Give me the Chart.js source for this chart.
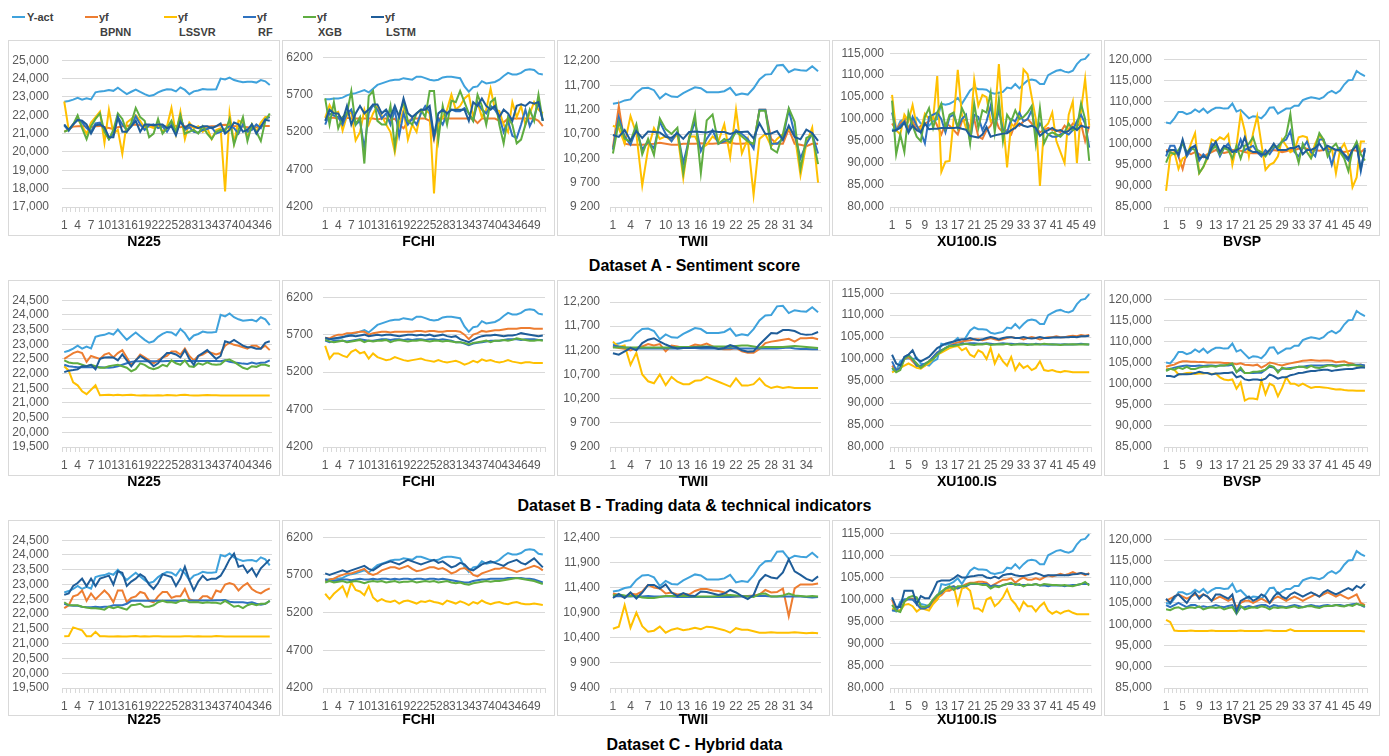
<!DOCTYPE html>
<html>
<head>
<meta charset="utf-8">
<title>Forecast comparison by dataset</title>
<script src="https://cdn.jsdelivr.net/npm/chart.js@4.4.1/dist/chart.umd.min.js"></script>
<style>
  html, body { margin: 0; padding: 0; background: #ffffff; }
  #page { position: relative; width: 1389px; height: 756px; overflow: hidden; font-family: "Liberation Sans", Arial, sans-serif; }
  .box { position: absolute; box-sizing: border-box; border: 1px solid #d9d9d9; }
  .box canvas { position: absolute; left: -1px; top: -1px; }
  .ptitle { position: absolute; font-weight: bold; font-size: 14px; line-height: 16px; color: #000; text-align: center; }
  .rtitle { position: absolute; left: 0; width: 1389px; font-weight: bold; font-size: 16px; line-height: 18px; color: #000; text-align: center; }
  .lg-line { position: absolute; height: 2px; width: 13px; }
  .lg-text { position: absolute; font-weight: bold; font-size: 11px; color: #404040; line-height: 12px; }
</style>
</head>
<body>
<div id="page"></div>
<script>
// ---------- x categories ----------
const N225_X  = Array.from({length: 47}, (_, i) => String(i + 1));
const FCHI_X  = Array.from({length: 51}, (_, i) => String(i + 1));
const TWII_X  = Array.from({length: 36}, (_, i) => String(i + 1));
const XU100_X = Array.from({length: 49}, (_, i) => String(i + 1));
const BVSP_X  = Array.from({length: 49}, (_, i) => String(i + 1));

// ---------- actual index values ----------
const N225_ACT = [22730,22780,22850,22950,22850,22920,22860,23250,23300,23320,
  23380,23330,23500,23320,23150,23280,23400,23270,23150,23050,
  23100,23250,23350,23420,23400,23300,23520,23380,23150,23300,
  23350,23430,23400,23400,23420,24000,23950,24050,23920,23850,
  23800,23820,23830,23780,23920,23850,23650];
const FCHI_ACT = [5640,5640,5650,5650,5660,5690,5710,5720,5740,5760,
  5730,5780,5830,5850,5870,5890,5900,5900,5920,5910,
  5900,5940,5940,5920,5900,5890,5900,5930,5940,5940,
  5930,5920,5810,5740,5800,5810,5880,5850,5860,5870,
  5900,5950,5990,5970,5970,5990,6030,6040,6030,5980,5970];
const TWII_ACT = [11320,11340,11390,11410,11550,11640,11650,11600,11430,11530,
  11470,11460,11540,11600,11660,11640,11560,11560,11560,11580,
  11650,11500,11530,11510,11640,11820,11920,11930,12110,12120,
  11970,12030,12010,12000,12090,11990];
const XU100_ACT = [97700,97300,99500,100000,100200,100000,100300,99000,98800,98500,
  99500,100000,103500,103300,103500,104000,104800,103500,105000,106500,
  107200,106800,106800,106700,106000,105800,106000,106200,107200,107000,
  108000,107000,108000,108800,109000,108800,108000,108000,110000,110500,
  111000,111200,110800,110600,111000,112500,113500,113700,114800];
const BVSP_ACT = [105000,104800,106000,107500,107500,107000,107300,108100,107500,108300,
  107300,108000,108500,108500,108300,108400,109500,107600,108000,107000,
  106000,106500,106400,106000,107000,108500,108600,107100,107700,108300,
  108300,109000,109000,110300,110700,111000,110800,110600,111000,112000,
  112500,111900,112600,114000,115000,115100,117200,116500,116000];

// ---------- Dataset A: sentiment score ----------
const N225_A_BPNN = [21100,21250,21380,21400,21420,21380,21350,21400,21420,21350,
  21300,21250,21350,21400,21420,21450,21500,21450,21400,21420,
  21380,21400,21420,21380,21400,21420,21350,21400,21380,21350,
  21300,21350,21380,21400,21420,21450,21480,21450,21420,21400,
  21380,21350,21300,21350,21400,21420,21420];
const N225_A_LSSVR = [22750,21200,21500,21800,21400,21000,21600,21900,22200,20500,
  22300,21000,21200,19900,21600,21800,22000,21700,21300,21400,
  21300,21500,21100,21400,22400,21000,22200,20700,21600,21300,
  21400,21100,21300,20700,21200,21300,17850,22100,20500,21700,
  21600,20800,21500,21100,21600,21900,21900];
const N225_A_RF = [21450,21150,21500,21750,21600,21300,21100,21550,21600,21200,
  20700,21000,21900,21500,21200,21400,21950,21500,21200,21450,
  21500,21300,21400,21100,21500,21000,21900,21200,21350,21100,
  21050,21200,21250,21350,21000,21100,21250,21400,21300,21000,
  21500,21100,21200,21500,21300,21800,21900];
const N225_A_XGB = [21100,21200,21500,22000,21300,20700,21400,21800,22100,21100,
  20700,21200,22100,21800,21100,21600,22400,21900,21700,20800,
  21000,21800,21000,21300,21700,21100,22000,21000,21100,21200,
  21000,21400,21000,20700,21100,21200,21100,21800,20400,21200,
  21900,20600,21500,21100,20600,21700,22100];
const N225_A_LSTM = [21500,21200,21500,21750,21700,21500,21000,21450,21500,21350,
  20800,20800,21900,21100,21100,21400,21700,21100,21500,21500,
  21450,21500,21500,21300,21400,20900,21650,21300,21500,21400,
  21300,21400,21400,21300,21400,21550,21000,21200,21600,21500,
  21100,21200,21500,21000,21400,21750,21700];

const FCHI_A_BPNN = [5400,5390,5390,5380,5380,5390,5380,5380,5380,5380,
  5380,5380,5370,5380,5380,5360,5380,5300,5250,5340,
  5380,5380,5380,5380,5350,5100,5380,5380,5380,5380,
  5380,5380,5380,5380,5380,5320,5380,5380,5380,5380,
  5350,5330,5380,5380,5380,5380,5380,5380,5380,5350,5280];
const FCHI_A_LSSVR = [5390,5560,5450,5470,5220,5420,5470,5090,5200,5500,
  5300,5450,5550,5420,5300,5200,4930,5300,5500,5100,
  5300,5200,5480,5500,5450,4380,5300,5400,5500,5700,
  5500,5550,5650,5700,5400,5600,5400,5500,5780,5500,
  5480,5300,5200,5600,5400,5550,5300,5450,5600,5500,5450];
const FCHI_A_RF = [5300,5450,5420,5400,5300,5450,5500,5300,5350,4980,
  5450,5560,5500,5380,5450,5300,5500,5150,5450,5300,
  5380,5300,5450,5550,5480,5130,5380,5300,5450,5500,
  5480,5480,5520,5450,5350,5600,5500,5450,5550,5500,
  5400,5200,5350,5150,5120,5300,5500,5280,5400,5600,5350];
const FCHI_A_XGB = [5650,5300,5600,5250,5400,5450,5750,5300,5400,4780,
  5680,5750,5350,5300,5300,5550,5000,5450,5600,5350,
  5300,5450,5500,5400,5750,5750,5100,5550,5300,5620,
  5600,5750,5600,5450,5350,5700,5550,5300,5600,5650,
  5300,5050,5400,5300,5050,5100,5300,5500,5350,5700,5350];
const FCHI_A_LSTM = [5350,5500,5450,5450,5350,5550,5300,5450,5550,5450,
  5500,5570,5570,5450,5500,5400,5550,5400,5650,5450,
  5400,5450,5500,5500,5550,5150,5450,5500,5450,5500,
  5500,5500,5500,5350,5600,5550,5650,5550,5500,5550,
  5400,5500,5450,5350,5550,5570,5550,5600,5580,5600,5350];

const TWII_A_BPNN = [10420,11270,10500,10480,10480,10480,10490,10500,10520,10500,
  10480,10480,10500,10500,10500,10510,10500,10500,10510,10520,
  10520,10500,10500,10510,10480,11200,11200,10600,10500,10500,
  10800,10500,10480,10450,10500,10500];
const TWII_A_LSSVR = [10870,10820,10500,11070,10700,9640,10400,10820,10600,10650,
  10560,10700,9800,10650,10650,10400,10480,10650,10550,10900,
  10230,11200,10300,10600,9450,10600,10700,10450,10600,10700,
  10800,10700,9850,10500,10830,9700];
const TWII_A_RF = [10380,11050,10650,10480,10800,10380,10550,10400,10950,10700,
  10550,10750,10100,10600,10950,10350,10600,10780,10500,10550,
  10600,10780,10700,10600,10400,11200,11200,10500,10500,10600,
  11200,10700,10200,10500,10700,10300];
const TWII_A_XGB = [10300,10950,10600,10550,10900,10280,10600,10270,11020,10800,
  10700,10830,9900,10600,11100,9900,10980,11100,10500,10600,
  10530,10750,10650,10550,10500,11180,11180,10400,10320,10700,
  11230,10950,9980,10620,10680,10080];
const TWII_A_LSTM = [10680,10640,10780,10560,10760,10620,10750,10740,10730,10640,
  10620,10720,10600,10740,10750,10740,10730,10760,10740,10740,
  10700,10740,10740,10750,10610,10920,10700,10710,10760,10580,
  10870,10640,10590,10790,10720,10560];

const XU100_A_BPNN = [99000,97500,99000,100000,98000,99500,97500,98500,99000,99500,
  100500,98500,96500,99000,98500,97500,96500,99500,100000,98000,
  100000,96000,95500,97500,98500,100500,98000,97000,97500,96500,
  99000,98500,99500,100000,99000,98000,97000,97500,98000,97500,
  97500,97000,98500,97500,99000,98500,99000,95000,98500];
const XU100_A_LSSVR = [105500,97500,96500,101000,99500,103200,98500,97500,101200,100000,
  100000,109800,88000,90300,90500,100000,111200,101000,98000,97000,
  109000,103000,105500,105000,99500,100500,112500,100000,89000,99000,
  98000,100500,111300,110200,105000,100000,84800,98000,99000,101500,
  95000,92500,90000,101000,104000,90000,102000,109200,98500];
const XU100_A_RF = [101500,97500,98500,99500,97000,100500,98500,97000,94500,100500,
  101000,101500,100000,97000,100500,101000,98000,100000,101000,95000,
  101000,100500,97500,99500,103000,98000,102000,97500,97000,100000,
  99500,101500,99500,100000,102000,96500,99000,97500,96500,96000,
  96000,96500,97000,96500,97500,99500,101000,99000,93500];
const XU100_A_XGB = [104200,92000,96500,92500,101500,98500,96000,95000,100500,102500,
  98000,101500,103500,98000,101000,101500,98000,102500,100500,94500,
  103500,98000,102000,101500,106000,97000,104500,95000,101000,99500,
  102000,100000,100500,101500,103000,94500,102500,94500,96500,97000,
  96500,96000,97000,99000,97500,98000,103500,100000,90500];
const XU100_A_LSTM = [97300,97500,98000,99200,97000,98500,97500,97000,99000,97700,
  97800,97800,98000,98000,98000,98000,98100,97800,97600,96200,
  96000,95800,96500,98200,96000,96300,96500,96700,96800,97500,
  98000,99000,98500,98200,98500,98000,96200,97000,97500,98000,
  97300,97500,97000,97300,98200,97500,98500,98200,98000];

const BVSP_A_BPNN = [98500,98300,98500,97000,94000,98000,97500,98000,97500,96800,
  97500,98000,98500,98000,97800,98000,98500,98500,98300,98000,
  97800,97700,97700,97600,98000,98200,98500,98300,98000,98200,
  98500,98500,98800,99000,98800,98500,98500,98300,98500,98800,
  98700,98500,98200,98000,98200,98500,98300,98000,98800];
const BVSP_A_LSSVR = [88800,97000,98000,94000,96500,97000,100000,102500,93000,94500,
  96500,101000,100500,101500,101000,102200,95000,99500,107000,103000,
  97000,102500,106500,100000,93800,95000,95500,97000,101000,99500,
  98000,98500,101500,101800,101500,97000,100000,102000,100500,99000,
  99000,93000,98500,100000,97500,89700,92000,100500,100500];
const BVSP_A_RF = [97000,99500,99500,97000,100500,97000,98500,99500,96000,97500,
  96500,100000,99500,97000,99000,100000,98000,98000,101000,98500,
  99000,99500,98000,97000,98500,97500,99000,99500,100500,101000,
  103000,98000,97000,99000,100500,98000,97000,101000,101000,98500,
  95000,98500,99000,97000,96000,98500,100000,93500,99000];
const BVSP_A_XGB = [95500,98000,97500,98500,100000,98000,99000,98500,93000,94500,
  97000,98500,99500,97500,99000,98500,96500,99500,96500,99500,
  100000,101500,98500,98000,97000,98500,99500,99000,100500,102000,
  107000,99000,95500,100000,98000,96500,99000,102500,101000,97000,
  99000,100000,98000,96500,93500,98500,100500,97500,96000];
const BVSP_A_LSTM = [98000,98500,98500,97500,101000,97500,99000,99500,96500,97000,
  96500,99000,100500,98000,99500,99000,98000,98500,99000,101500,
  98500,98000,98000,97500,97500,98500,100000,98500,98500,98500,
  99000,99000,99500,97500,98500,98500,99000,100000,98500,99500,
  99000,98500,98500,97500,96500,98500,99500,94000,98500];

// ---------- Dataset B: trading data & technical indicators ----------
const N225_B_BPNN = [22500,22600,22700,22750,22700,22400,22600,22550,22500,22650,
  22700,22550,22700,22800,22550,22300,22450,22650,22550,22450,
  22350,22450,22550,22600,22750,22750,22650,22850,22600,22450,
  22600,22650,22750,22700,22650,22700,22950,23050,22980,22950,
  22900,22850,22950,22950,22850,22950,22800];
const N225_B_LSSVR = [22250,22100,21700,21600,21400,21300,21450,21600,21260,21270,
  21280,21260,21280,21260,21270,21280,21260,21250,21260,21250,
  21250,21260,21250,21270,21260,21250,21270,21280,21260,21250,
  21250,21260,21270,21260,21260,21250,21250,21250,21250,21250,
  21250,21250,21250,21250,21250,21250,21250];
const N225_B_RF = [22300,22250,22230,22220,22220,22220,22220,22220,22220,22210,
  22200,22220,22250,22300,22350,22400,22420,22420,22420,22420,
  22420,22420,22420,22430,22430,22430,22430,22430,22430,22430,
  22430,22430,22430,22430,22430,22420,22450,22400,22380,22360,
  22340,22330,22380,22340,22370,22380,22450];
const N225_B_XGB = [22450,22380,22350,22350,22300,22250,22300,22250,22200,22200,
  22250,22280,22300,22250,22200,22080,22150,22350,22300,22200,
  22150,22200,22300,22250,22450,22350,22300,22450,22250,22230,
  22350,22300,22380,22320,22300,22320,22450,22480,22400,22300,
  22200,22150,22250,22230,22300,22300,22250];
const N225_B_LSTM = [22050,22100,22120,22150,22250,22250,22300,22150,22500,22550,
  22560,22550,22450,22650,22450,22250,22450,22600,22500,22400,
  22250,22350,22550,22700,22700,22650,22550,22800,22500,22300,
  22600,22700,22800,22650,22500,22600,23100,23050,23150,23050,
  22950,22900,22900,22850,22850,23050,23100];

const FCHI_B_BPNN = [5660,5650,5680,5700,5700,5720,5720,5730,5740,5740,
  5700,5720,5730,5740,5740,5730,5740,5740,5740,5740,
  5740,5750,5750,5740,5750,5750,5740,5740,5750,5750,
  5750,5740,5700,5640,5700,5720,5750,5740,5750,5760,
  5760,5770,5780,5780,5780,5790,5790,5790,5780,5780,5780];
const FCHI_B_LSSVR = [5550,5380,5450,5450,5420,5400,5470,5500,5450,5470,
  5380,5450,5400,5380,5360,5370,5400,5380,5360,5350,
  5360,5370,5380,5360,5350,5340,5360,5340,5330,5340,
  5350,5330,5300,5320,5350,5330,5370,5350,5360,5340,
  5330,5340,5360,5340,5330,5320,5330,5330,5320,5320,5320];
const FCHI_B_RF = [5620,5600,5620,5620,5620,5610,5620,5630,5640,5630,
  5620,5620,5630,5640,5640,5630,5640,5640,5630,5640,
  5630,5640,5640,5630,5640,5640,5630,5640,5630,5620,
  5600,5600,5580,5560,5580,5590,5600,5610,5620,5620,
  5620,5630,5640,5640,5640,5630,5640,5640,5640,5630,5630];
const FCHI_B_XGB = [5630,5610,5600,5610,5620,5600,5610,5620,5630,5600,
  5620,5610,5620,5620,5630,5600,5620,5630,5620,5610,
  5620,5620,5630,5620,5610,5620,5620,5610,5620,5610,
  5600,5600,5590,5570,5590,5600,5610,5620,5600,5620,
  5620,5630,5620,5630,5650,5640,5630,5620,5620,5630,5620];
const FCHI_B_LSTM = [5660,5640,5650,5660,5670,5680,5690,5680,5690,5700,
  5680,5690,5700,5690,5700,5700,5690,5680,5690,5700,
  5700,5690,5700,5690,5700,5680,5690,5700,5680,5670,
  5680,5640,5620,5600,5630,5660,5680,5690,5690,5700,
  5690,5680,5690,5690,5700,5720,5710,5700,5690,5680,5690];

const TWII_B_BPNN = [11280,11250,11230,11200,11250,11280,11330,11300,11330,11180,
  11300,11280,11250,11270,11320,11300,11340,11280,11230,11220,
  11220,11250,11180,11150,11150,11230,11350,11380,11400,11420,
  11440,11380,11450,11450,11460,11430];
const TWII_B_LSSVR = [11380,11270,11300,10900,11150,10700,10560,10520,10700,10480,
  10650,10550,10500,10500,10570,10580,10650,10600,10550,10500,
  10450,10620,10470,10470,10500,10620,10480,10420,10450,10420,
  10440,10420,10420,10420,10420,10420];
const TWII_B_RF = [11300,11280,11260,11250,11240,11240,11240,11240,11240,11240,
  11240,11240,11250,11250,11250,11240,11240,11240,11240,11240,
  11250,11240,11240,11240,11240,11240,11240,11240,11240,11250,
  11260,11240,11230,11230,11220,11220];
const TWII_B_XGB = [11260,11260,11260,11260,11260,11260,11260,11260,11260,11260,
  11260,11270,11270,11270,11270,11280,11280,11280,11280,11280,
  11280,11290,11300,11300,11280,11260,11270,11270,11270,11270,
  11280,11290,11280,11270,11260,11250];
const TWII_B_LSTM = [11140,11110,11180,11250,11200,11350,11420,11450,11380,11320,
  11270,11240,11250,11250,11260,11260,11270,11260,11230,11250,
  11310,11270,11200,11170,11180,11320,11440,11560,11550,11620,
  11620,11600,11540,11520,11530,11580];

const XU100_B_BPNN = [98500,97500,98000,100000,100500,99500,98500,98000,98500,99500,
  100500,101500,102000,102500,103000,103500,103800,104000,104200,104300,
  104500,104500,104300,104500,104800,104500,104300,104500,104800,105000,
  104800,104800,104500,104800,105000,104800,104500,104800,105000,105000,
  105200,105000,105000,105200,105300,105200,105500,105300,105500];
const XU100_B_LSSVR = [97000,97500,98000,98500,99000,98500,98000,97800,98500,99000,
  100000,101000,101500,102000,102500,102800,103000,102000,102500,101000,
  100500,102000,101500,100000,102500,99000,101000,99500,98500,100500,
  97500,99000,98000,98500,97500,98000,99500,97500,97300,97500,
  97200,97000,97300,97200,97000,97000,97000,97000,97000];
const XU100_B_RF = [99500,97500,98000,100500,101000,100000,98500,98500,99000,99500,
  100500,101500,102000,102500,103000,103200,103300,103500,103500,103600,
  103600,103500,103500,103600,103500,103400,103500,103600,103500,103500,
  103400,103500,103500,103400,103300,103500,103400,103300,103300,103400,
  103300,103300,103400,103300,103300,103400,103500,103400,103300];
const XU100_B_XGB = [98000,97000,97500,100000,100800,100000,99000,98000,98800,99500,
  100000,101000,101800,102500,103000,103000,103200,103300,103500,103300,
  103200,103400,103300,103500,103200,103300,103400,103300,103500,103200,
  103300,103400,103300,103200,103400,103300,103300,103500,103400,103300,
  103300,103200,103300,103300,103400,103300,103300,103400,103300];
const XU100_B_LSTM = [101000,99000,98500,100500,101000,102000,100000,99500,100000,100500,
  101500,102500,103000,103500,103800,104000,104300,104500,104500,104800,
  104500,104300,104500,104800,105000,104800,104500,104800,105000,105000,
  104800,104800,105000,104800,104700,104800,105000,104800,104800,104900,
  105000,104900,105000,105000,105100,105000,105200,105200,105300];

const BVSP_B_BPNN = [104000,104300,104500,105000,105300,105300,105200,105200,105100,105100,
  105000,105000,105000,105000,104900,104900,104800,104600,104800,104500,
  104400,104300,104500,103800,104300,105000,104800,104500,104300,104600,
  104800,105000,105200,105400,105500,105600,105500,105400,105500,105500,
  105400,105100,105200,105300,104900,104700,104300,104500,104200];
const BVSP_B_LSSVR = [103500,103500,103300,102200,102300,102500,102600,102300,102400,102400,
  102500,102300,102400,101500,101000,100800,101000,98800,100300,96000,
  96500,96500,96300,100700,97500,100000,99500,97000,99000,101500,
  100000,100000,99500,100000,99500,99000,99200,99200,99100,99000,
  98800,98600,98700,98500,98400,98400,98300,98300,98300];
const BVSP_B_RF = [103200,103500,103800,104000,104200,104300,104200,104200,104300,104200,
  104300,104300,104200,104300,104300,104300,104500,102800,103300,102500,
  102500,102500,102600,102600,103300,104000,103800,103000,103500,103600,
  103700,103800,104000,104000,104200,104300,104300,104300,104300,104400,
  104400,104300,104300,104400,104400,104500,104500,104500,104300];
const BVSP_B_XGB = [103000,103500,103300,103800,103500,104000,103500,103500,103800,104000,
  104000,104200,104000,104300,104300,104500,104800,102700,103800,102500,
  102500,102800,102800,103000,103300,104300,104000,102600,103800,103500,
  103500,103800,104000,104000,103700,104200,103800,103700,104000,104300,
  104300,104000,104300,104500,104300,104500,104300,104200,103800];
const BVSP_B_LSTM = [101800,101800,101600,102200,102200,102200,102300,102500,102800,102600,
  102500,102200,102400,102400,102500,102500,102700,101500,101800,101000,
  100800,101000,101000,100800,101200,102200,101800,101200,101500,101500,
  102000,102200,102500,102600,102800,103000,103000,103200,103300,103300,
  103000,103200,103300,103400,103500,103500,103700,103800,103800];

// ---------- Dataset C: hybrid data ----------
const N225_C_BPNN = [22200,22300,22600,22650,22800,22450,22700,22500,22650,22800,
  22650,22400,22800,22800,22400,22550,22600,22750,22700,22450,
  22400,22600,22750,22750,22550,22600,22600,22850,22500,22450,
  22450,22600,22600,22500,22800,22750,23000,23050,23000,22800,
  22950,23050,22850,22750,22700,22800,22870];
const N225_C_LSSVR = [21250,21260,21550,21500,21450,21250,21250,21400,21250,21250,
  21240,21240,21250,21240,21240,21250,21260,21240,21250,21240,
  21250,21250,21240,21240,21240,21240,21240,21250,21250,21240,
  21250,21240,21240,21240,21260,21250,21240,21240,21240,21240,
  21240,21240,21240,21240,21240,21240,21240];
const N225_C_RF = [22350,22300,22280,22280,22250,22230,22230,22250,22230,22250,
  22250,22300,22300,22300,22350,22450,22450,22450,22450,22450,
  22450,22450,22450,22450,22450,22450,22450,22460,22460,22460,
  22460,22460,22460,22460,22470,22470,22480,22420,22400,22400,
  22400,22380,22400,22350,22320,22350,22450];
const N225_C_XGB = [22400,22300,22300,22300,22250,22220,22200,22200,22180,22150,
  22250,22200,22250,22200,22150,22300,22320,22350,22250,22250,
  22300,22400,22450,22400,22400,22380,22450,22480,22400,22400,
  22400,22380,22400,22380,22380,22350,22450,22350,22250,22280,
  22200,22300,22350,22300,22350,22350,22450];
const N225_C_LSTM = [22650,22700,22950,23050,23200,22950,23200,22950,23200,23250,
  23300,23000,23450,23400,22950,23100,23200,23350,23250,23000,
  22850,23050,23350,23300,23250,22950,23200,23600,23150,22800,
  23100,23300,23150,23200,23200,23300,23550,23850,24050,23600,
  23650,23400,23550,23280,23550,23700,23850];

const FCHI_C_BPNN = [5620,5640,5650,5680,5700,5720,5720,5740,5760,5780,
  5720,5700,5720,5760,5780,5800,5800,5780,5800,5820,
  5780,5750,5760,5780,5800,5800,5780,5790,5760,5720,
  5740,5780,5790,5760,5700,5680,5720,5740,5760,5780,
  5780,5800,5780,5760,5740,5760,5780,5800,5820,5800,5760];
const FCHI_C_LSSVR = [5450,5380,5450,5500,5550,5420,5600,5500,5480,5430,
  5550,5400,5350,5380,5350,5340,5360,5320,5350,5360,
  5340,5320,5350,5340,5360,5340,5330,5310,5360,5340,
  5320,5350,5330,5300,5340,5320,5360,5330,5310,5330,
  5340,5320,5310,5330,5340,5320,5310,5310,5320,5310,5300];
const FCHI_C_RF = [5640,5620,5620,5630,5640,5640,5630,5640,5650,5640,
  5640,5650,5640,5650,5650,5640,5650,5640,5650,5650,
  5640,5650,5650,5640,5650,5650,5640,5650,5640,5630,
  5620,5610,5600,5600,5620,5630,5640,5640,5650,5650,
  5650,5650,5660,5660,5660,5660,5650,5650,5640,5620,5600];
const FCHI_C_XGB = [5600,5620,5600,5610,5620,5600,5610,5620,5610,5590,
  5610,5620,5610,5620,5600,5610,5620,5600,5610,5610,
  5620,5600,5610,5620,5610,5620,5600,5610,5620,5600,
  5590,5600,5580,5570,5590,5600,5610,5620,5610,5620,
  5620,5630,5640,5650,5660,5650,5640,5630,5620,5600,5580];
const FCHI_C_LSTM = [5720,5700,5720,5740,5760,5740,5760,5780,5800,5820,
  5780,5760,5800,5840,5860,5880,5860,5840,5870,5900,
  5880,5860,5840,5860,5880,5900,5860,5880,5840,5800,
  5820,5860,5840,5780,5760,5800,5840,5860,5880,5860,
  5840,5820,5860,5880,5900,5860,5840,5880,5920,5860,5800];

const TWII_C_BPNN = [11280,11250,11200,11280,11260,11320,11450,11400,11380,11280,
  11300,11260,11270,11260,11330,11370,11370,11340,11330,11300,
  11220,11220,11230,11230,11240,11260,11350,11300,11310,11380,
  10830,11380,11460,11460,11460,11480];
const TWII_C_LSSVR = [10580,10620,11050,10600,10900,10630,10520,10540,10620,10500,
  10560,10590,10550,10570,10600,10570,10620,10610,10580,10550,
  10500,10590,10560,10560,10530,10500,10500,10510,10500,10500,
  10500,10510,10500,10490,10500,10490];
const TWII_C_RF = [11220,11230,11220,11220,11230,11220,11230,11220,11220,11220,
  11220,11210,11210,11210,11210,11210,11210,11210,11210,11210,
  11210,11220,11220,11220,11230,11230,11230,11220,11220,11220,
  11220,11220,11220,11210,11200,11210];
const TWII_C_XGB = [11240,11260,11240,11230,11230,11200,11190,11190,11210,11230,
  11230,11230,11230,11230,11220,11220,11220,11220,11230,11240,
  11250,11240,11230,11220,11210,11270,11280,11220,11220,11240,
  11280,11240,11230,11220,11230,11220];
const TWII_C_LSTM = [11190,11270,11190,11300,11180,11300,11450,11450,11380,11460,
  11300,11230,11290,11240,11230,11320,11310,11280,11250,11280,
  11350,11300,11230,11170,11250,11530,11650,11600,11580,11700,
  11960,11720,11650,11570,11530,11620];

const XU100_C_BPNN = [100000,97500,97500,99500,100200,100200,99000,98000,98300,98200,
  99500,100500,101000,102000,102000,102500,102500,103000,103500,103800,
  103800,104000,104000,103800,103000,103500,104000,104500,104500,104800,
  103800,104500,105000,104500,104500,104800,104500,105000,105500,105200,
  105500,105800,105500,105800,106200,105800,106000,105500,106000];
const XU100_C_LSSVR = [98000,97500,97500,98800,99000,98500,97300,98000,97800,97500,
  99000,100000,101500,102000,102500,103000,99000,102500,102800,102000,
  98000,98000,97300,100000,100500,98500,99300,100500,102300,100000,
  99000,97500,99500,98500,98500,97300,98500,99300,97500,96800,
  97300,96800,97300,97500,97000,96700,96700,96700,96700];
const XU100_C_RF = [97500,97500,99000,100000,100000,100000,99000,98000,98000,98500,
  100000,101000,101500,102500,102800,103000,102500,103000,103000,103500,
  103500,103500,103500,103500,103000,103200,103000,103200,103500,103500,
  103500,103300,103300,103300,103300,103500,103200,103200,103000,103200,
  103200,103200,103000,103200,103300,103300,103500,103500,103500];
const XU100_C_XGB = [98800,97500,97200,99500,100500,100800,100500,98500,98300,98800,
  100000,101000,101800,102500,103000,102200,103000,103000,103200,103600,
  103600,103500,103300,103300,102500,103000,102800,103300,103500,103800,
  103300,103500,103000,103400,103300,103500,103200,103500,103400,103300,
  103300,103200,103300,103100,103000,103300,103500,104000,103200];
const XU100_C_LSTM = [100500,98300,98300,102000,102000,102000,99000,100800,100300,100300,
  102000,104000,104300,104300,104300,104800,105500,105000,105000,105200,
  105300,105500,105500,105000,104800,105200,104800,105500,105700,105800,
  105500,105300,105300,105500,105700,106000,105700,105300,105500,105500,
  105500,105500,105500,105500,105700,105800,106000,105800,105700];

const BVSP_C_BPNN = [105500,106000,106500,107000,106500,106000,106500,107000,106500,107000,
  106500,105500,106000,106500,106000,105500,106000,104000,105000,105500,
  105500,105000,105500,106000,105500,105000,106000,106500,106000,105500,
  106000,106500,106000,105500,106000,106500,107000,106500,107000,107500,
  107000,106500,107000,106500,106000,106500,107000,105000,104500];
const BVSP_C_LSSVR = [101000,100500,98500,98400,98400,98400,98500,98400,98400,98400,
  98400,98500,98400,98400,98400,98400,98400,98400,98500,98400,
  98400,98400,98400,98400,98500,98500,98400,98400,98400,98400,
  98800,98400,98400,98400,98400,98400,98400,98400,98400,98400,
  98400,98400,98400,98400,98400,98400,98400,98400,98300];
const BVSP_C_RF = [104500,104000,104500,105000,104500,104000,104500,104500,104000,104200,
  104000,104200,104500,104200,104000,104300,104500,102500,104000,104000,
  104300,104000,104300,104500,104500,104000,104500,104300,104200,104000,
  104300,104500,104300,104000,104300,104500,104300,104200,104400,104500,
  104300,104500,104500,104300,104500,104700,104800,104500,104000];
const BVSP_C_XGB = [103500,103300,103800,104000,103500,103800,104000,103800,104200,103500,
  103800,104000,103800,104000,103500,103800,104000,102500,104300,103500,
  103800,104000,103800,104200,104000,103500,104000,103800,104000,103800,
  104000,104200,103800,104000,104200,104300,104000,103800,104200,104300,
  104300,104500,104300,104200,104500,104300,104800,104500,104300];
const BVSP_C_LSTM = [106000,105000,106500,107000,106000,105000,106500,107500,106000,107000,
  106500,105500,107000,107000,106500,106000,107000,103000,105500,106000,
  106500,105500,106000,107000,106500,105000,106500,107500,106500,106000,
  107000,107500,107000,106500,107000,107500,107000,106500,107500,108000,
  107500,107000,107500,108000,108500,108000,109000,108500,109500];

// ---------- series styling ----------
const SERIES = ['Y-act', 'BPNN', 'LSSVR', 'RF', 'XGB', 'LSTM'];
const COLORS = ['#3fa2dc', '#ed7d31', '#ffc000', '#2f72c0', '#5fad41', '#1f5d99'];

// ---------- panel list ----------
const PANELS = [
  // row 0: Dataset A
  {row:0, col:0, title:'N225', x:N225_X, act:N225_ACT, fc:[N225_A_BPNN,N225_A_LSSVR,N225_A_RF,N225_A_XGB,N225_A_LSTM], y:[17000,25000,1000], fmt:'comma', every:3},
  {row:0, col:1, title:'FCHI', x:FCHI_X, act:FCHI_ACT, fc:[FCHI_A_BPNN,FCHI_A_LSSVR,FCHI_A_RF,FCHI_A_XGB,FCHI_A_LSTM], y:[4200,6200,500], fmt:'plain', every:3},
  {row:0, col:2, title:'TWII', x:TWII_X, act:TWII_ACT, fc:[TWII_A_BPNN,TWII_A_LSSVR,TWII_A_RF,TWII_A_XGB,TWII_A_LSTM], y:[9200,12200,500], fmt:'space', every:3},
  {row:0, col:3, title:'XU100.IS', x:XU100_X, act:XU100_ACT, fc:[XU100_A_BPNN,XU100_A_LSSVR,XU100_A_RF,XU100_A_XGB,XU100_A_LSTM], y:[80000,115000,5000], fmt:'comma', every:4},
  {row:0, col:4, title:'BVSP', x:BVSP_X, act:BVSP_ACT, fc:[BVSP_A_BPNN,BVSP_A_LSSVR,BVSP_A_RF,BVSP_A_XGB,BVSP_A_LSTM], y:[85000,120000,5000], fmt:'comma', every:4},
  // row 1: Dataset B
  {row:1, col:0, title:'N225', x:N225_X, act:N225_ACT, fc:[N225_B_BPNN,N225_B_LSSVR,N225_B_RF,N225_B_XGB,N225_B_LSTM], y:[19500,24500,500], fmt:'comma', every:3},
  {row:1, col:1, title:'FCHI', x:FCHI_X, act:FCHI_ACT, fc:[FCHI_B_BPNN,FCHI_B_LSSVR,FCHI_B_RF,FCHI_B_XGB,FCHI_B_LSTM], y:[4200,6200,500], fmt:'plain', every:3},
  {row:1, col:2, title:'TWII', x:TWII_X, act:TWII_ACT, fc:[TWII_B_BPNN,TWII_B_LSSVR,TWII_B_RF,TWII_B_XGB,TWII_B_LSTM], y:[9200,12200,500], fmt:'space', every:3},
  {row:1, col:3, title:'XU100.IS', x:XU100_X, act:XU100_ACT, fc:[XU100_B_BPNN,XU100_B_LSSVR,XU100_B_RF,XU100_B_XGB,XU100_B_LSTM], y:[80000,115000,5000], fmt:'comma', every:4},
  {row:1, col:4, title:'BVSP', x:BVSP_X, act:BVSP_ACT, fc:[BVSP_B_BPNN,BVSP_B_LSSVR,BVSP_B_RF,BVSP_B_XGB,BVSP_B_LSTM], y:[85000,120000,5000], fmt:'comma', every:4},
  // row 2: Dataset C
  {row:2, col:0, title:'N225', x:N225_X, act:N225_ACT, fc:[N225_C_BPNN,N225_C_LSSVR,N225_C_RF,N225_C_XGB,N225_C_LSTM], y:[19500,24500,500], fmt:'comma', every:3},
  {row:2, col:1, title:'FCHI', x:FCHI_X, act:FCHI_ACT, fc:[FCHI_C_BPNN,FCHI_C_LSSVR,FCHI_C_RF,FCHI_C_XGB,FCHI_C_LSTM], y:[4200,6200,500], fmt:'plain', every:3},
  {row:2, col:2, title:'TWII', x:TWII_X, act:TWII_ACT, fc:[TWII_C_BPNN,TWII_C_LSSVR,TWII_C_RF,TWII_C_XGB,TWII_C_LSTM], y:[9400,12400,500], fmt:'space', every:3},
  {row:2, col:3, title:'XU100.IS', x:XU100_X, act:XU100_ACT, fc:[XU100_C_BPNN,XU100_C_LSSVR,XU100_C_RF,XU100_C_XGB,XU100_C_LSTM], y:[80000,115000,5000], fmt:'comma', every:4},
  {row:2, col:4, title:'BVSP', x:BVSP_X, act:BVSP_ACT, fc:[BVSP_C_BPNN,BVSP_C_LSSVR,BVSP_C_RF,BVSP_C_XGB,BVSP_C_LSTM], y:[85000,120000,5000], fmt:'comma', every:4}
];

const ROW_TITLES = ['Dataset A - Sentiment score', 'Dataset B - Trading data & technical indicators', 'Dataset C - Hybrid data'];

// ---------- layout geometry ----------
// box: outer frame; plot: left/right of the plotting area; gap between y labels and plot
const COLS = [
  {l: 8,    r: 280,  pl: 62,   pr: 272,  gap: 13},
  {l: 282,  r: 555,  pl: 323,  pr: 545,  gap: 10},
  {l: 557,  r: 830,  pl: 610,  pr: 821,  gap: 10},
  {l: 832,  r: 1102, pl: 890,  pr: 1093, gap: 6},
  {l: 1104, r: 1380, pl: 1164, pr: 1367, gap: 12}
];
const ROWS = [
  {t: 40,  b: 236, pt: 52,  pb: 207, ptTw: 61,  title: 233, rowTitle: 257},
  {t: 280, b: 476, pt: 293, pb: 447, ptTw: 302, title: 473, rowTitle: 497},
  {t: 520, b: 716, pt: 533, pb: 688, ptTw: 533, title: 711, rowTitle: 736}
];

const TICK_FONT = {family: '"Liberation Sans", Arial, sans-serif', size: 12};
const TICK_COLOR = '#595959';
const GRID_COLOR = '#d9d9d9';

function formatY(v, kind) {
  if (kind === 'plain') return String(v);
  if (kind === 'space' && v < 10000) {
    return Math.floor(v / 1000) + ' ' + String(v % 1000).padStart(3, '0');
  }
  return v.toLocaleString('en-US');
}

const page = document.getElementById('page');

function addDiv(cls, css, text) {
  const d = document.createElement('div');
  d.className = cls;
  Object.assign(d.style, css);
  if (text !== undefined) d.textContent = text;
  page.appendChild(d);
  return d;
}

// ---------- legend ----------
const LEGEND_POS = [
  {line: 12,  text: 27},
  {line: 85,  text: 99},
  {line: 164, text: 178},
  {line: 243, text: 257},
  {line: 303, text: 317},
  {line: 371, text: 385}
];
SERIES.forEach((name, i) => {
  const p = LEGEND_POS[i];
  addDiv('lg-line', {left: p.line + 'px', top: '16px', background: COLORS[i]});
  if (i === 0) {
    addDiv('lg-text', {left: p.text + 'px', top: '11px'}, name);
  } else {
    addDiv('lg-text', {left: p.text + 'px', top: '11px'}, 'yf');
    addDiv('lg-text', {left: (p.text + 1) + 'px', top: '26px'}, name);
  }
});

// ---------- row titles ----------
ROW_TITLES.forEach((t, r) => {
  addDiv('rtitle', {top: ROWS[r].rowTitle + 'px'}, t);
});

// ---------- charts ----------
PANELS.forEach(p => {
  const c = COLS[p.col];
  const r = ROWS[p.row];
  const w = c.r - c.l;
  const h = r.b - r.t;
  const top = (p.title === 'TWII' ? r.ptTw : r.pt) - r.t;

  const box = addDiv('box', {left: c.l + 'px', top: r.t + 'px', width: w + 'px', height: h + 'px'});
  const canvas = document.createElement('canvas');
  canvas.width = w;
  canvas.height = h;
  canvas.style.width = w + 'px';
  canvas.style.height = h + 'px';
  box.appendChild(canvas);

  addDiv('ptitle', {left: c.l + 'px', width: w + 'px', top: r.title + 'px'}, p.title);

  const all = [p.act].concat(p.fc);
  const datasets = all.map((data, i) => ({
    label: i === 0 ? SERIES[0] : 'yf ' + SERIES[i],
    data: data,
    borderColor: COLORS[i],
    backgroundColor: COLORS[i],
    borderWidth: 2,
    pointRadius: 0,
    tension: 0,
    fill: false,
    order: SERIES.length - i
  }));

  new Chart(canvas, {
    type: 'line',
    data: {labels: p.x, datasets: datasets},
    options: {
      responsive: false,
      animation: false,
      devicePixelRatio: 1,
      events: [],
      layout: {padding: {top: top, right: c.r - c.pr, left: 0, bottom: 0}},
      plugins: {legend: {display: false}, tooltip: {enabled: false}, title: {display: false}},
      scales: {
        x: {
          type: 'category',
          offset: true,
          grid: {display: true, offset: true, drawOnChartArea: false, drawTicks: true, tickLength: 5, color: GRID_COLOR},
          border: {display: true, color: GRID_COLOR},
          ticks: {
            autoSkip: false, maxRotation: 0, minRotation: 0, padding: 6,
            font: TICK_FONT, color: TICK_COLOR,
            callback: function (val, idx) { return idx % p.every === 0 ? this.getLabelForValue(val) : ''; }
          },
          afterFit: s => { s.height = r.b - r.pb; }
        },
        y: {
          min: p.y[0], max: p.y[1],
          grid: {color: GRID_COLOR, drawTicks: false},
          border: {display: false},
          ticks: {
            stepSize: p.y[2], padding: c.gap, autoSkip: false,
            font: TICK_FONT, color: TICK_COLOR,
            callback: v => formatY(v, p.fmt)
          },
          afterFit: s => { s.width = c.pl - c.l; }
        }
      }
    }
  });
});
</script>
</body>
</html>
